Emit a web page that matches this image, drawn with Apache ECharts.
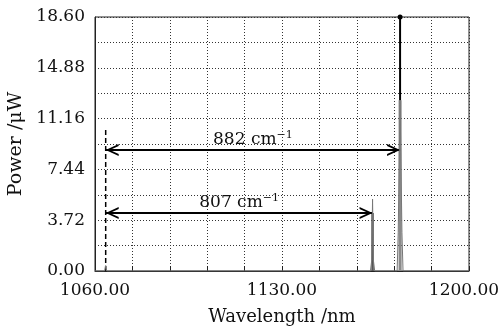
<!DOCTYPE html>
<html>
<head>
<meta charset="utf-8">
<script src="https://cdn.jsdelivr.net/npm/echarts@6/dist/echarts.min.js"></script>
<style>html,body{margin:0;padding:0;background:#fff}#c{width:502px;height:326px}</style>
</head>
<body>
<div id="c"></div>
<script>
// ---- data ----
const xTickLabels = [1060, 1130, 1200];
const yTickLabels = [0, 3.72, 7.44, 11.16, 14.88, 18.60];
// grey measured spectrum (wavelength nm, power uW)
const spectrumWl = [1060, 1063.6, 1064.0, 1064.4, 1163.1, 1163.6, 1163.9, 1164.2, 1164.7, 1173.1, 1173.5, 1174.2, 1174.9, 1175.3, 1200];
const spectrumPw = [0, 0, 0.4, 0, 0, 0.8, 5.27, 0.8, 0, 0, 2.8, 12.5, 2.8, 0, 0];
// pump line (dashed)
const pumpWl = [1064.0, 1064.0];
const pumpPw = [0, 10.47];
// strong Stokes line 882 cm-1 (black with dot)
const stokes882Wl = [1174.2, 1174.2];
const stokes882Pw = [0, 18.6];
// grey cores of the peaks
const core882Wl = [1174.2, 1174.2];
const core882Pw = [0, 12.5];
const core807Wl = [1163.9, 1163.9];
const core807Pw = [0, 4.25];
// arrows
const arrowLabels = ['882', '807'];
const arrowStart = [1064.0, 1064.0];
const arrowEnd = [1174.2, 1163.9];
const arrowPw = [8.86, 4.25];

const zip = (a, b) => a.map((v, i) => [v, b[i]]);
const FONT = 'DejaVu Serif';
const FS = 17;
// open chevron whose tip sits at the symbol centre (invisible point pads the box)
const chev = 'path://M0,20 L5,10 L10,20 L8.4,20 L5,13.2 L1.6,20 Z M5,0 L5.01,0 L5,0.01 Z';

const chart = echarts.init(document.getElementById('c'), null, {renderer: 'canvas'});
chart.setOption({
  animation: false,
  backgroundColor: '#fff',
  textStyle: {fontFamily: FONT, color: '#111'},
  grid: {left: 95, right: 33, top: 17, bottom: 55, show: true, borderColor: '#222', borderWidth: 1,
         containLabel: false, outerBoundsMode: 'none'},
  xAxis: {
    type: 'value', min: 1060, max: 1200, interval: 14,
    name: 'Wavelength /nm', nameLocation: 'middle', nameGap: 37,
    nameTextStyle: {fontFamily: FONT, fontSize: 18, color: '#111'},
    axisLine: {show: true, lineStyle: {color: '#222', width: 1}},
    axisTick: {show: true, inside: true, length: 5, lineStyle: {color: '#222'},
      interval: (i, v) => xTickLabels.indexOf(Math.round(Number(v))) >= 0},
    axisLabel: {fontFamily: FONT, fontSize: FS, color: '#111', margin: 11,
      formatter: v => {
        const r = Math.round(v);
        if (xTickLabels.indexOf(r) < 0) return '';
        return r === xTickLabels[xTickLabels.length - 1] ? '{last|' + v.toFixed(2) + '}' : v.toFixed(2);
      },
      rich: {last: {fontFamily: FONT, fontSize: FS, color: '#111', padding: [0, 10, 0, 0]}}},
    splitLine: {show: true, lineStyle: {color: '#333', type: [1, 2], width: 1}}
  },
  yAxis: {
    type: 'value', min: 0, max: 18.6, interval: 1.86,
    name: 'Power /\u03bcW', nameLocation: 'middle', nameGap: 63,
    nameTextStyle: {fontFamily: FONT, fontSize: 19, color: '#111'},
    axisLine: {show: true, lineStyle: {color: '#222', width: 1}},
    axisTick: {show: false},
    axisLabel: {fontFamily: FONT, fontSize: FS, color: '#111', margin: 10,
      formatter: (v, i) => {
        const m = yTickLabels.find(t => Math.abs(t - v) < 1e-6);
        return m !== undefined ? m.toFixed(2) : '';
      }},
    splitLine: {show: true, lineStyle: {color: '#333', type: [1, 2], width: 1}}
  },
  series: [
    {
      type: 'line', data: zip(stokes882Wl, stokes882Pw).map((p, i) => ({value: p, symbol: i === 1 ? 'circle' : 'none'})),
      symbolSize: 5, showSymbol: true, clip: false, itemStyle: {color: '#000'},
      lineStyle: {color: '#000', width: 2}, z: 3
    },
    {
      type: 'line', data: zip(pumpWl, pumpPw), symbol: 'none',
      lineStyle: {color: '#000', width: 1.5, type: [5, 3]}, z: 3
    },
    {
      type: 'line', data: zip(core882Wl, core882Pw), symbol: 'none',
      lineStyle: {color: '#8a8a8a', width: 3}, z: 4
    },
    {
      type: 'line', data: zip(core807Wl, core807Pw), symbol: 'none',
      lineStyle: {color: '#555', width: 2.5}, z: 4
    },
    {
      type: 'line', data: zip(spectrumWl, spectrumPw), symbol: 'none',
      lineStyle: {color: '#777', width: 1}, z: 5,
      markLine: {
        silent: true, animation: false,
        symbol: [chev, chev], symbolSize: [12, 26],
        lineStyle: {color: '#000', width: 2, type: 'solid'},
        label: {
          show: true, position: 'middle', distance: 0,
          formatter: p => '{n|' + p.name + ' cm}{s|\u22121}',
          rich: {
            n: {fontFamily: FONT, fontSize: FS, color: '#111'},
            s: {fontFamily: FONT, fontSize: 11, color: '#111', padding: [0, 0, 9, 0]}
          }
        },
        data: arrowLabels.map((l, i) => [
          {name: l, coord: [arrowStart[i], arrowPw[i]]},
          {coord: [arrowEnd[i], arrowPw[i]]}
        ])
      }
    }
  ]
});
</script>
</body>
</html>
